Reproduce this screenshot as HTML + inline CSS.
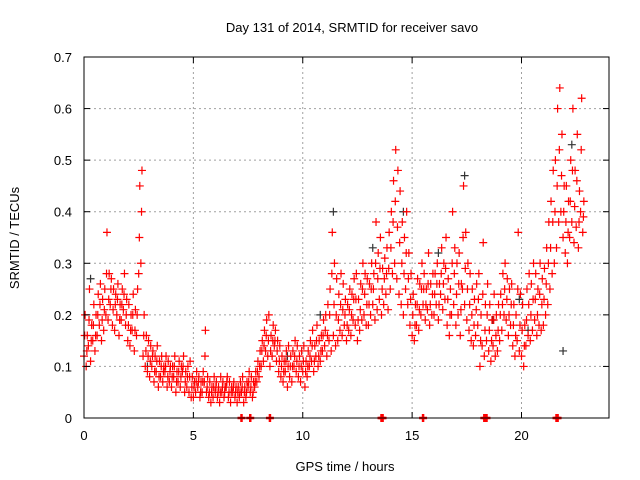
<!DOCTYPE html>
<html><head><meta charset="utf-8"><style>
body{margin:0;background:#fff;}
svg{display:block;font-family:"Liberation Sans",sans-serif;}
</style></head><body>
<svg id="chart" width="640" height="480" viewBox="0 0 640 480">
<rect width="640" height="480" fill="#fff"/>
<g id="grid"></g>
<g id="black"></g>
<g id="red"></g>
<rect x="84" y="57" width="525" height="361" fill="none" stroke="#000" stroke-width="1"/>
<g id="ticks"></g>
<text x="352" y="32" font-size="13" text-anchor="middle">Day 131 of 2014, SRMTID for receiver savo</text>
<text x="345" y="471" font-size="13" text-anchor="middle">GPS time / hours</text>
<text transform="translate(19,238) rotate(-90)" font-size="13" text-anchor="middle">SRMTID / TECUs</text>
</svg>
<script>
const startHour = 0;
const stepHour = 0.1;
const seriesA = [
.12,.10,.14,.11,.15,.13,.16,.18,.15,.17,
.20,.19,.22,.18,.17,.20,.16,.19,.21,.18,
.15,.14,.17,.13,.16,.28,.30,.12,.10,.09,
.08,.10,.07,.09,.06,.08,.07,.09,.06,.07,
.06,.08,.05,.07,.06,.09,.05,.06,.05,.04,
.04,.05,.06,.04,.05,.07,.05,.04,.03,.04,
.05,.04,.03,.05,.04,.06,.04,.03,.05,.04,
.03,.04,.05,.03,.04,.06,.05,.04,.06,.07,
.08,.10,.11,.13,.12,.10,.12,.14,.11,.09,
.08,.07,.09,.06,.08,.07,.10,.09,.08,.07,
.09,.06,.08,.10,.11,.09,.12,.10,.11,.13,
.14,.12,.15,.13,.16,.14,.15,.17,.16,.18,
.15,.17,.16,.19,.18,.15,.17,.19,.20,.18,
.18,.20,.22,.19,.21,.23,.20,.22,.24,.21,
.25,.28,.30,.27,.24,.22,.20,.25,.22,.18,
.16,.15,.18,.17,.20,.22,.19,.21,.18,.20,
.20,.22,.19,.24,.21,.23,.18,.16,.20,.22,
.18,.20,.16,.25,.22,.19,.17,.15,.14,.16,
.18,.10,.14,.12,.15,.13,.11,.14,.12,.13,
.15,.17,.20,.19,.16,.18,.14,.12,.15,.13,
.12,.10,.14,.16,.15,.17,.19,.16,.18,.17,
.18,.20,.22,.25,.28,.30,.33,.38,.40,.35,
.32,.30,.35,.38,.34,.37,.33,.40,.36];
const seriesB = [
.20,.16,.25,.18,.22,.20,.24,.26,.23,.25,
.36,.28,.27,.25,.24,.26,.22,.25,.28,.23,
.22,.20,.24,.21,.25,.45,.48,.20,.16,.15,
.14,.13,.12,.14,.11,.12,.10,.12,.11,.10,
.10,.12,.09,.11,.10,.12,.09,.10,.11,.08,
.07,.09,.08,.07,.09,.17,.08,.07,.06,.08,
.07,.06,.08,.07,.06,.08,.07,.06,.07,.06,
.06,.07,.08,.06,.07,.09,.08,.07,.09,.11,
.13,.15,.17,.19,.20,.16,.18,.17,.15,.14,
.12,.11,.13,.14,.12,.13,.15,.14,.12,.13,
.14,.11,.13,.15,.17,.14,.18,.15,.16,.19,
.20,.22,.25,.36,.30,.27,.24,.28,.26,.23,
.22,.25,.24,.27,.28,.23,.26,.30,.28,.27,
.26,.30,.28,.38,.32,.35,.29,.31,.33,.36,
.40,.46,.52,.48,.44,.38,.35,.40,.32,.28,
.24,.22,.27,.26,.30,.28,.25,.32,.26,.28,
.28,.30,.26,.33,.30,.35,.27,.25,.40,.33,
.30,.32,.26,.45,.36,.30,.28,.25,.23,.26,
.28,.20,.34,.22,.26,.22,.19,.24,.20,.22,
.24,.28,.30,.27,.25,.26,.22,.20,.36,.24,
.22,.18,.25,.28,.26,.30,.28,.25,.30,.27,
.29,.33,.38,.42,.48,.50,.60,.64,.55,.45,
.45,.42,.50,.60,.48,.55,.44,.62,.42];
const seriesC = [
.16,.13,.19,.15,.18,.16,.20,.22,.19,.21,
.28,.23,.25,.21,.22,.23,.19,.22,.24,.20,
.18,.17,.20,.17,.20,.35,.40,.16,.13,.12,
.11,.12,.09,.11,.08,.10,.09,.10,.08,.09,
.08,.10,.07,.09,.08,.10,.07,.08,.08,.06,
.06,.07,.07,.05,.07,.12,.06,.05,.05,.06,
.06,.05,.05,.06,.05,.07,.05,.05,.06,.05,
.05,.05,.06,.05,.05,.07,.06,.05,.07,.09,
.10,.13,.14,.16,.15,.13,.15,.15,.13,.11,
.10,.09,.11,.10,.10,.10,.12,.11,.10,.10,
.11,.09,.10,.12,.14,.11,.15,.12,.13,.16,
.17,.16,.20,.28,.22,.20,.19,.22,.21,.20,
.18,.21,.20,.23,.23,.19,.21,.25,.24,.22,
.22,.25,.25,.30,.27,.29,.25,.27,.28,.29,
.33,.38,.42,.37,.34,.30,.28,.32,.27,.23,
.20,.18,.22,.21,.25,.25,.22,.26,.22,.24,
.24,.26,.22,.28,.26,.29,.23,.20,.30,.28,
.24,.26,.21,.35,.29,.25,.22,.20,.18,.21,
.23,.15,.24,.17,.20,.17,.15,.19,.16,.17,
.20,.22,.25,.23,.20,.22,.18,.16,.25,.18,
.17,.14,.19,.22,.20,.23,.23,.20,.24,.22,
.23,.26,.30,.33,.38,.40,.45,.52,.47,.40,
.38,.36,.42,.48,.41,.46,.38,.52,.39];
const seriesOffsets = [0, 0.05, 0.03];
const blackHours = [0.3,2.9,9.3,11.4,13.2,14.6,17.4,19.9,20.3,22.3,21.9,10.8,16.2,18.7];
const blackValues = [.27,.10,.12,.40,.33,.40,.47,.23,.17,.53,.13,.20,.32,.19];
const zeroHours = [7.2,7.6,8.5,13.6,13.65,15.5,18.3,18.4,21.6,21.65];
const xTicks = [0,5,10,15,20];
const yTicks = [0,0.1,0.2,0.3,0.4,0.5,0.6,0.7];
const yTickLabels = ["0","0.1","0.2","0.3","0.4","0.5","0.6","0.7"];

const X0=84,X1=609,Y0=418,Y1=57,XMAX=24,YMAX=0.7;
const xs=h=>X0+(h/XMAX)*(X1-X0);
const ys=v=>Y0-(v/YMAX)*(Y0-Y1);
const NS='http://www.w3.org/2000/svg';
function mk(tag,attrs,parent){const e=document.createElementNS(NS,tag);for(const k in attrs)e.setAttribute(k,attrs[k]);parent.appendChild(e);return e;}
const grid=document.getElementById('grid'),ticks=document.getElementById('ticks');
xTicks.forEach(t=>{
  const x=xs(t);
  if(t>0){const g=mk('line',{x1:x,x2:x,y1:Y1,y2:Y0,stroke:'#a0a0a0','stroke-dasharray':'2,3'},grid);
  
  }
  mk('line',{x1:x,x2:x,y1:Y0,y2:Y0-6,stroke:'#000'},ticks);
  mk('line',{x1:x,x2:x,y1:Y1,y2:Y1+6,stroke:'#000'},ticks);
  const l=mk('text',{x:x,y:Y0+22,'font-size':13,'text-anchor':'middle'},ticks);
  l.textContent=t;
  
  
});
yTicks.forEach((t,i)=>{
  const y=ys(t);
  if(t>0&&t<YMAX){const g=mk('line',{x1:X0,x2:X1,y1:y,y2:y,stroke:'#a0a0a0','stroke-dasharray':'2,3'},grid);
  
  }
  mk('line',{x1:X0,x2:X0+6,y1:y,y2:y,stroke:'#000'},ticks);
  mk('line',{x1:X1,x2:X1-6,y1:y,y2:y,stroke:'#000'},ticks);
  const l=mk('text',{x:X0-12,y:y+5,'font-size':13,'text-anchor':'end'},ticks);
  l.textContent=yTickLabels[i];
  
  
});
function cross(h,v,color,parent,sw){
  const x=xs(h),y=ys(v);
  const p=mk('path',{d:`M${x-4},${y}H${x+4}M${x},${y-4}V${y+4}`,stroke:color,'stroke-width':sw||1.2,fill:'none'},parent);
  
  
}
const black=document.getElementById('black'),red=document.getElementById('red');
blackHours.forEach((h,i)=>cross(h,blackValues[i],'#333',black));
[seriesA,seriesB,seriesC].forEach((s,k)=>s.forEach((v,i)=>cross(startHour+i*stepHour+seriesOffsets[k],v,'#f00',red)));
zeroHours.forEach(h=>cross(h,0,'#f00',red,2.5));
</script>
</body></html>
